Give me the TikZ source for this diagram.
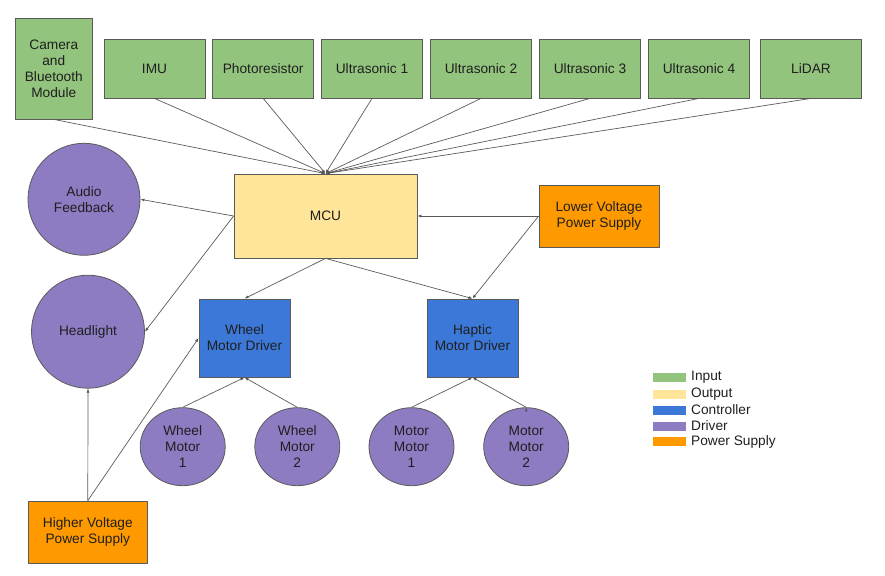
\documentclass[tikz,border=0pt]{standalone}
\usepackage{fontspec}
\setmainfont{Liberation Sans}
\usetikzlibrary{arrows.meta,shapes.geometric}

\definecolor{inputc}{HTML}{93C47D}
\definecolor{outputc}{HTML}{FFE599}
\definecolor{ctrlc}{HTML}{3C78D8}
\definecolor{drvc}{HTML}{8E7CC3}
\definecolor{powc}{HTML}{FF9900}
\definecolor{edgec}{HTML}{5A5A5A}
\definecolor{textc}{HTML}{1F1F1F}

\begin{document}
\begin{tikzpicture}[
        x=1pt, y=-1pt,
        every node/.style={font=\fontsize{13.7pt}{16pt}\selectfont, text=textc, align=center},
        box/.style={draw=edgec, line width=0.8pt, rectangle, inner sep=0pt},
        inbox/.style={box, fill=inputc, minimum width=101pt, minimum height=59pt},
        blob/.style={draw=edgec, line width=0.8pt, ellipse, inner sep=0pt, fill=drvc},
        motor/.style={blob, minimum width=85pt, minimum height=78pt},
        drv/.style={box, fill=ctrlc, minimum width=91pt, minimum height=78pt},
        pow/.style={box, fill=powc, minimum width=120pt, minimum height=62pt},
        swatch/.style={draw=none, minimum width=33pt, minimum height=9pt, inner sep=0pt},
        ar/.style={-{Latex[length=4pt,width=3pt]}, draw=edgec, line width=0.7pt},
    ]
    \useasboundingbox (0,0) rectangle (885,575);

    % inputs
    \node[box, fill=inputc, minimum width=77pt, minimum height=101pt](cam) at (53.8,68.5) {Camera\\and\\Bluetooth\\Module};
    \node[inbox](imu) at (154.5,68.5) {IMU};
    \node[inbox](photo) at (263.2,68.5) {Photoresistor};
    \node[inbox](us1) at (372,68.5) {Ultrasonic 1};
    \node[inbox](us2) at (481,68.5) {Ultrasonic 2};
    \node[inbox](us3) at (590,68.5) {Ultrasonic 3};
    \node[inbox](us4) at (699,68.5) {Ultrasonic 4};
    \node[inbox](lidar) at (811,68.5) {LiDAR};

    \node[box, fill=outputc, minimum width=183pt, minimum height=84pt](mcu) at (325.5,216) {MCU};

    \node[blob, minimum size=112pt](audio) at (84,199.3) {Audio\\Feedback};
    \node[blob, minimum size=113pt](head) at (88,331.7) {Headlight};

    \node[pow](lvps) at (599,216) {Lower Voltage\\Power Supply};
    \node[pow, minimum width=119pt](hvps) at (87.8,532) {Higher Voltage\\Power Supply};

    \node[drv](wmd) at (244.5,338) {Wheel\\Motor Driver};
    \node[drv](hmd) at (472.5,338) {Haptic\\Motor Driver};

    \node[motor](wm1) at (182.7,446.7) {Wheel\\Motor\\1};
    \node[motor](wm2) at (297.3,446.7) {Wheel\\Motor\\2};
    \node[motor](mm1) at (411.5,446.7) {Motor\\Motor\\1};
    \node[motor](mm2) at (526.2,446.7) {Motor\\Motor\\2};

    \path[ar]
    (cam.south) edge (mcu.north)
    (imu.south) edge (mcu.north)
    (photo.south) edge (mcu.north)
    (us1.south) edge (mcu.north)
    (us2.south) edge (mcu.north)
    (us3.south) edge (mcu.north)
    (us4.south) edge (mcu.north)
    (lidar.south) edge (mcu.north)

    (mcu.west) edge (audio.east) edge (head.east)
    (mcu.south) edge (wmd.north) edge (hmd.north)
    (lvps.west) edge (mcu.east) edge (hmd.north)
    (hvps.north) edge (head.south) edge (wmd.west)

    (wm1.north) edge (wmd.south)
    (wm2.north) edge (wmd.south)
    (mm1.north) edge (hmd.south)
    (mm2.north) edge (hmd.south)
    ;

    % legend
    \foreach \lbl/\col/\y [count=\i] in {Input/inputc/377.7, Output/outputc/394, Controller/ctrlc/410, Driver/drvc/426, Power Supply/powc/441.5} {
        \node[swatch, fill=\col](sw\i) at (669,\y) {};
        \node[anchor=west, inner sep=0pt](lg\i) at (691,\y) {\lbl};
    }
    \end{tikzpicture}
\end{document}
